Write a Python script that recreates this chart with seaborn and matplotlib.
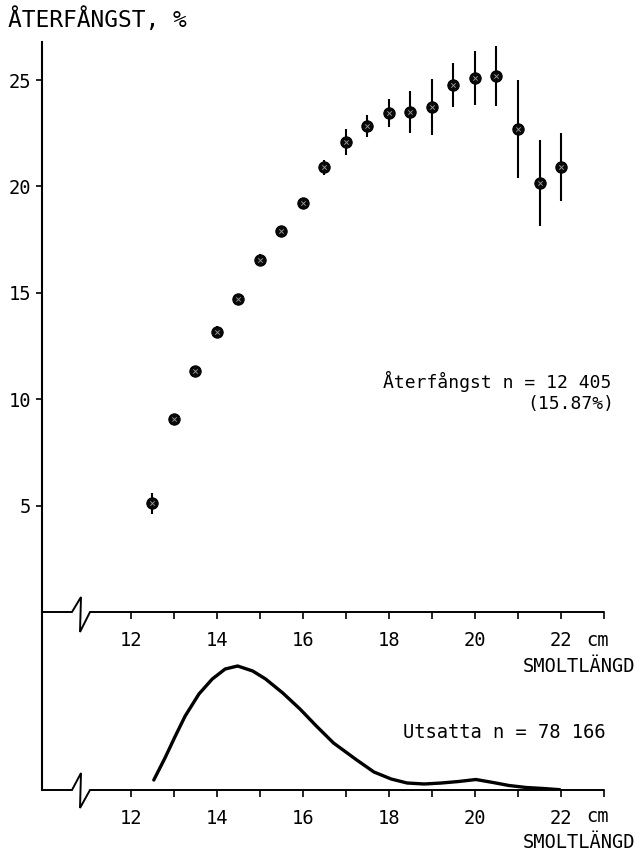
import matplotlib
matplotlib.use("Agg")
import matplotlib.pyplot as plt
import numpy as np
import pandas as pd
import seaborn as sns

# ---------------- data ----------------
langd_cm = [12.5, 13.0, 13.5, 14.0, 14.5, 15.0, 15.5, 16.0, 16.5, 17.0,
            17.5, 18.0, 18.5, 19.0, 19.5, 20.0, 20.5, 21.0, 21.5, 22.0]
aterfangst_pct = [5.1, 9.07, 11.33, 13.16, 14.71, 16.54, 17.9, 19.22, 20.9, 22.09,
                  22.84, 23.45, 23.5, 23.73, 24.77, 25.09, 25.19, 22.7, 20.16, 20.9]
fel_pct = [0.5, 0.25, 0.25, 0.3, 0.25, 0.3, 0.25, 0.25, 0.35, 0.6,
           0.5, 0.65, 1.0, 1.3, 1.05, 1.25, 1.4, 2.3, 2.0, 1.6]

utsatta_langd = [12.53, 12.79, 13.02, 13.26, 13.58, 13.89, 14.19, 14.48, 14.83, 15.13,
                 15.53, 15.93, 16.31, 16.71, 17.25, 17.65, 18.05, 18.42, 18.82, 19.22,
                 19.62, 20.02, 20.42, 20.79, 21.19, 21.59, 21.97]
utsatta_andel = [10, 32, 53, 74, 96, 111, 121, 124, 119, 111,
                 97, 81, 64, 47, 30, 18, 11, 7, 6, 7,
                 8.5, 10.5, 7.5, 4.5, 2.5, 1.5, 0.3]

x_major = [12, 14, 16, 18, 20, 22]
x_minor = [13, 15, 17, 19, 21, 23]
y_ticks = [5, 10, 15, 20, 25]

title_text = "ÅTERFÅNGST, %"
xlabel_text = "SMOLTLÄNGD"
unit_text = "cm"
ater_text = "Återfångst n = 12 405"
ater_pct_text = "(15.87%)"
utsatta_text = "Utsatta n = 78 166"

# ---------------- style ----------------
sns.set_style("ticks")
plt.rcParams['font.family'] = ['DejaVu Sans Mono', 'DejaVu Sans']
for k in ("text.color", "axes.labelcolor", "xtick.color", "ytick.color", "axes.edgecolor"):
    plt.rcParams[k] = "black"
FS = 13.5

W, H = 640, 861
fig = plt.figure(figsize=(W / 100, H / 100), dpi=100)

def fx(px):
    return px / W

def fy(py):
    return 1 - py / H

XL, XR = 42, 604
Y_TOP, Y_BASE1, Y_BASE2 = 42, 612, 790
PX_PER_CM = 43.0
X12 = 131
xmin = 12 + (XL - X12) / PX_PER_CM
xmax = 12 + (XR - X12) / PX_PER_CM
PX_PER_UNIT = 21.28

ax1 = fig.add_axes([fx(XL), fy(Y_BASE1), (XR - XL) / W, (Y_BASE1 - Y_TOP) / H])
ax2 = fig.add_axes([fx(XL), fy(Y_BASE2), (XR - XL) / W, (Y_BASE2 - Y_BASE1) / H])

for ax in (ax1, ax2):
    ax.set_xlim(xmin, xmax)
    ax.patch.set_alpha(0)
    for s in ("top", "right", "bottom"):
        ax.spines[s].set_visible(False)
    ax.spines["left"].set_linewidth(1.5)
    ax.spines["left"].set_color("black")
    ax.set_xticks(x_major)
    ax.set_xticklabels([str(v) for v in x_major])
    ax.set_xticks(x_minor, minor=True)
    ax.tick_params(axis="x", which="both", direction="out", length=5, width=1.2,
                   colors="black", labelsize=FS, pad=8.5)

ax1.set_ylim(0, (Y_BASE1 - Y_TOP) / PX_PER_UNIT)
ax1.set_yticks(y_ticks)
ax1.set_yticklabels([str(v) for v in y_ticks])
ax1.tick_params(axis="y", direction="out", length=4, width=1.2, labelsize=FS, pad=4,
                colors="black")

ax2.set_ylim(0, Y_BASE2 - Y_BASE1)
ax2.set_yticks([])

# baselines with axis break
def px2cm(px):
    return 12 + (px - X12) / PX_PER_CM

brk_x = [xmin, px2cm(72), px2cm(81), px2cm(80), px2cm(90), xmax]
ax1.plot(brk_x, [0, 0, 15 / PX_PER_UNIT, -20 / PX_PER_UNIT, 0, 0],
         color="black", lw=1.4, clip_on=False, solid_joinstyle="miter")
ax2.plot(brk_x, [0, 0, 17, -18, 0, 0],
         color="black", lw=1.4, clip_on=False, solid_joinstyle="miter")

# upper: recapture % with error bars
df = pd.DataFrame({"langd": langd_cm, "pct": aterfangst_pct, "fel": fel_pct})
ax1.vlines(df["langd"], df["pct"] - df["fel"], df["pct"] + df["fel"],
           color="black", lw=1.5, zorder=2)
sns.scatterplot(data=df, x="langd", y="pct", ax=ax1, color="#0a0a0a", s=66,
                edgecolor="black", linewidth=0.8, zorder=3, legend=False)
sns.scatterplot(data=df, x="langd", y="pct", ax=ax1, color="#a0a0a0", marker="x",
                s=10, linewidth=0.6, zorder=4, legend=False)
ax1.set_xlabel("")
ax1.set_ylabel("")

# lower: released distribution
dfu = pd.DataFrame({"langd": utsatta_langd, "andel": utsatta_andel})
sns.lineplot(data=dfu, x="langd", y="andel", ax=ax2, color="black", lw=2.4,
             legend=False)
ax2.set_xlabel("")
ax2.set_ylabel("")

# texts
fig.text(fx(8), fy(20), title_text, ha="left", va="center", fontsize=16.5)
fig.text(fx(383), fy(381), ater_text, ha="left", va="center", fontsize=13)
fig.text(fx(614), fy(404), ater_pct_text, ha="right", va="center", fontsize=13)
fig.text(fx(403), fy(732), utsatta_text, ha="left", va="center", fontsize=FS)
fig.text(fx(635), fy(667), xlabel_text, ha="right", va="center", fontsize=FS)
fig.text(fx(635), fy(843), xlabel_text, ha="right", va="center", fontsize=FS)
fig.text(fx(597), fy(640), unit_text, ha="center", va="center", fontsize=FS)
fig.text(fx(597), fy(817), unit_text, ha="center", va="center", fontsize=FS)

fig.savefig("out.png", dpi=100, facecolor="white")
